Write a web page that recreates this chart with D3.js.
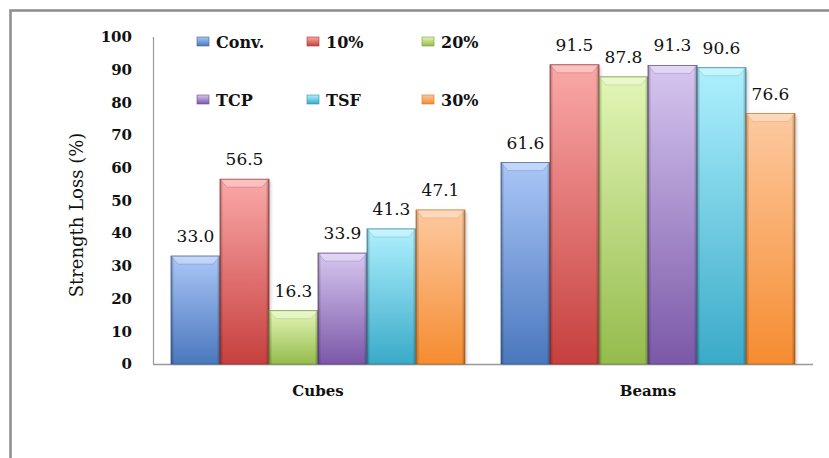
<!DOCTYPE html>
<html>
<head>
<meta charset="utf-8">
<script src="https://cdn.jsdelivr.net/npm/d3@7"></script>
<style>
  html, body { margin: 0; padding: 0; background: #fff; overflow: hidden; }
  svg { display: block; }
  text { font-family: "DejaVu Serif", "Liberation Serif", serif; fill: #111; }
</style>
</head>
<body>
<svg id="chart" width="829" height="458"></svg>
<script>
// Specimen groups and mix series
const categories = ["Cubes", "Beams"];
const series = ["Conv.", "10%", "20%", "TCP", "TSF", "30%"];
const cubes = [33.0, 56.5, 16.3, 33.9, 41.3, 47.1];
const beams = [61.6, 91.5, 87.8, 91.3, 90.6, 76.6];
const yTicks = [0, 10, 20, 30, 40, 50, 60, 70, 80, 90, 100];

// Base (bottom) and light (top) tones for each series
const baseColors  = ["#4a78bd", "#c6403e", "#95bb4c", "#7b58a8", "#3aaac8", "#f58c30"];
const lightColors = ["#aac6f7", "#fba8a8", "#e2f6b6", "#d6c6f0", "#aef0fe", "#fdc9a0"];

const W = 829, H = 458;
const plot = { left: 153, right: 813, top: 37, bottom: 364 };

const svg = d3.select("#chart");

// Outer frame: only the top and left edges fall inside the view
svg.append("path")
  .attr("d", `M10.5,${H} L10.5,10.5 L${W},10.5`)
  .attr("fill", "none").attr("stroke", "#8c8c8c").attr("stroke-width", 2.5);

const y = d3.scaleLinear().domain([0, 100]).range([plot.bottom, plot.top]);
const x0 = d3.scaleBand().domain(categories).range([plot.left, plot.right]);
const x1 = d3.scaleBand().domain(series).range([18, x0.bandwidth() - 18]).padding(0);

// Gradients
const defs = svg.append("defs");
series.forEach((s, i) => {
  const g = defs.append("linearGradient").attr("id", "grad" + i)
    .attr("x1", 0).attr("y1", 0).attr("x2", 0).attr("y2", 1);
  g.append("stop").attr("offset", "0%").attr("stop-color", lightColors[i]);
  g.append("stop").attr("offset", "100%").attr("stop-color", baseColors[i]);
});
const edge = defs.append("linearGradient").attr("id", "edge")
  .attr("x1", 0).attr("y1", 0).attr("x2", 1).attr("y2", 0);
[[0, 0.28], [0.07, 0.0], [0.93, 0.0], [1, 0.3]].forEach(([o, a]) =>
  edge.append("stop").attr("offset", o).attr("stop-color", "#000").attr("stop-opacity", a));
const blur = defs.append("filter").attr("id", "soft").attr("x", "-20%").attr("width", "140%");
blur.append("feGaussianBlur").attr("stdDeviation", 1.5);

// Axes lines
svg.append("line")
  .attr("x1", plot.left + 0.5).attr("x2", plot.left + 0.5)
  .attr("y1", plot.top).attr("y2", plot.bottom)
  .attr("stroke", "#9a9a9a").attr("stroke-width", 1.2);
svg.append("line")
  .attr("x1", plot.left).attr("x2", plot.right)
  .attr("y1", plot.bottom + 0.5).attr("y2", plot.bottom + 0.5)
  .attr("stroke", "#9a9a9a").attr("stroke-width", 1.5);

// Y tick labels
svg.append("g").selectAll("text").data(yTicks).join("text")
  .attr("x", 132).attr("y", d => y(d))
  .attr("dy", "0.35em")
  .attr("text-anchor", "end")
  .attr("font-size", 15).attr("font-weight", "bold")
  .text(d => d);

// Y title
svg.append("text")
  .attr("transform", `translate(77, 215) rotate(-90)`)
  .attr("text-anchor", "middle")
  .attr("dy", "0.35em")
  .attr("font-size", 18)
  .text("Strength Loss (%)");

// Category labels
svg.append("g").selectAll("text").data(categories).join("text")
  .attr("x", d => x0(d) + x0.bandwidth() / 2)
  .attr("y", 391)
  .attr("dy", "0.35em")
  .attr("text-anchor", "middle")
  .attr("font-size", 15).attr("font-weight", "bold")
  .text(d => d);

// Bars
const groupData = [cubes, beams];
const groups = svg.append("g").selectAll("g").data(categories).join("g")
  .attr("transform", d => `translate(${x0(d)},0)`);

groups.each(function (cat, ci) {
  const g = d3.select(this);
  const rows = series.map((s, i) => ({ s, i, v: groupData[ci][i] }));
  const bw = x1.bandwidth();

  // Soft shadow behind the bars
  g.selectAll("rect.shadow").data(rows).join("rect").attr("class", "shadow")
    .attr("x", d => x1(d.s) + 2).attr("y", d => y(d.v) + 2)
    .attr("width", bw).attr("height", d => y(0) - y(d.v) - 2)
    .attr("fill", "#000").attr("fill-opacity", 0.18)
    .attr("filter", "url(#soft)");

  const bar = g.selectAll("g.bar").data(rows).join("g").attr("class", "bar");

  bar.append("rect")
    .attr("x", d => x1(d.s)).attr("y", d => y(d.v))
    .attr("width", bw).attr("height", d => y(0) - y(d.v))
    .attr("fill", d => `url(#grad${d.i})`)
    .attr("stroke", d => d3.color(baseColors[d.i]).darker(0.6))
    .attr("stroke-width", 0.8);

  bar.append("rect")
    .attr("x", d => x1(d.s)).attr("y", d => y(d.v))
    .attr("width", bw).attr("height", d => y(0) - y(d.v))
    .attr("fill", "url(#edge)");

  // Top bevel
  bar.append("path")
    .attr("d", d => {
      const xl = x1(d.s), xr = xl + bw, t = y(d.v);
      return `M${xl},${t} L${xr},${t} L${xr - 7},${t + 8} L${xl + 7},${t + 8} Z`;
    })
    .attr("fill", "#fff").attr("fill-opacity", 0.3)
    .attr("stroke", d => d3.color(baseColors[d.i]).darker(0.3))
    .attr("stroke-opacity", 0.45).attr("stroke-width", 0.6);

  // Value labels
  bar.append("text")
    .attr("x", d => x1(d.s) + bw / 2)
    .attr("y", d => y(d.v) - 14)
    .attr("text-anchor", "middle")
    .attr("font-size", 17)
    .text(d => d3.format(".1f")(d.v));
});

// Legend: two rows of three
const legend = svg.append("g");
const legX = [197, 307, 422];
const legY = [42, 100];
series.forEach((s, i) => {
  const lx = legX[i % 3], ly = legY[Math.floor(i / 3)];
  legend.append("rect")
    .attr("x", lx).attr("y", ly - 5)
    .attr("width", 12).attr("height", 9)
    .attr("fill", `url(#grad${i})`)
    .attr("stroke", d3.color(baseColors[i]).darker(0.5)).attr("stroke-width", 0.6);
  legend.append("text")
    .attr("x", lx + 19).attr("y", ly)
    .attr("dy", "0.35em")
    .attr("font-size", 16).attr("font-weight", "bold")
    .text(s);
});
</script>
</body>
</html>
